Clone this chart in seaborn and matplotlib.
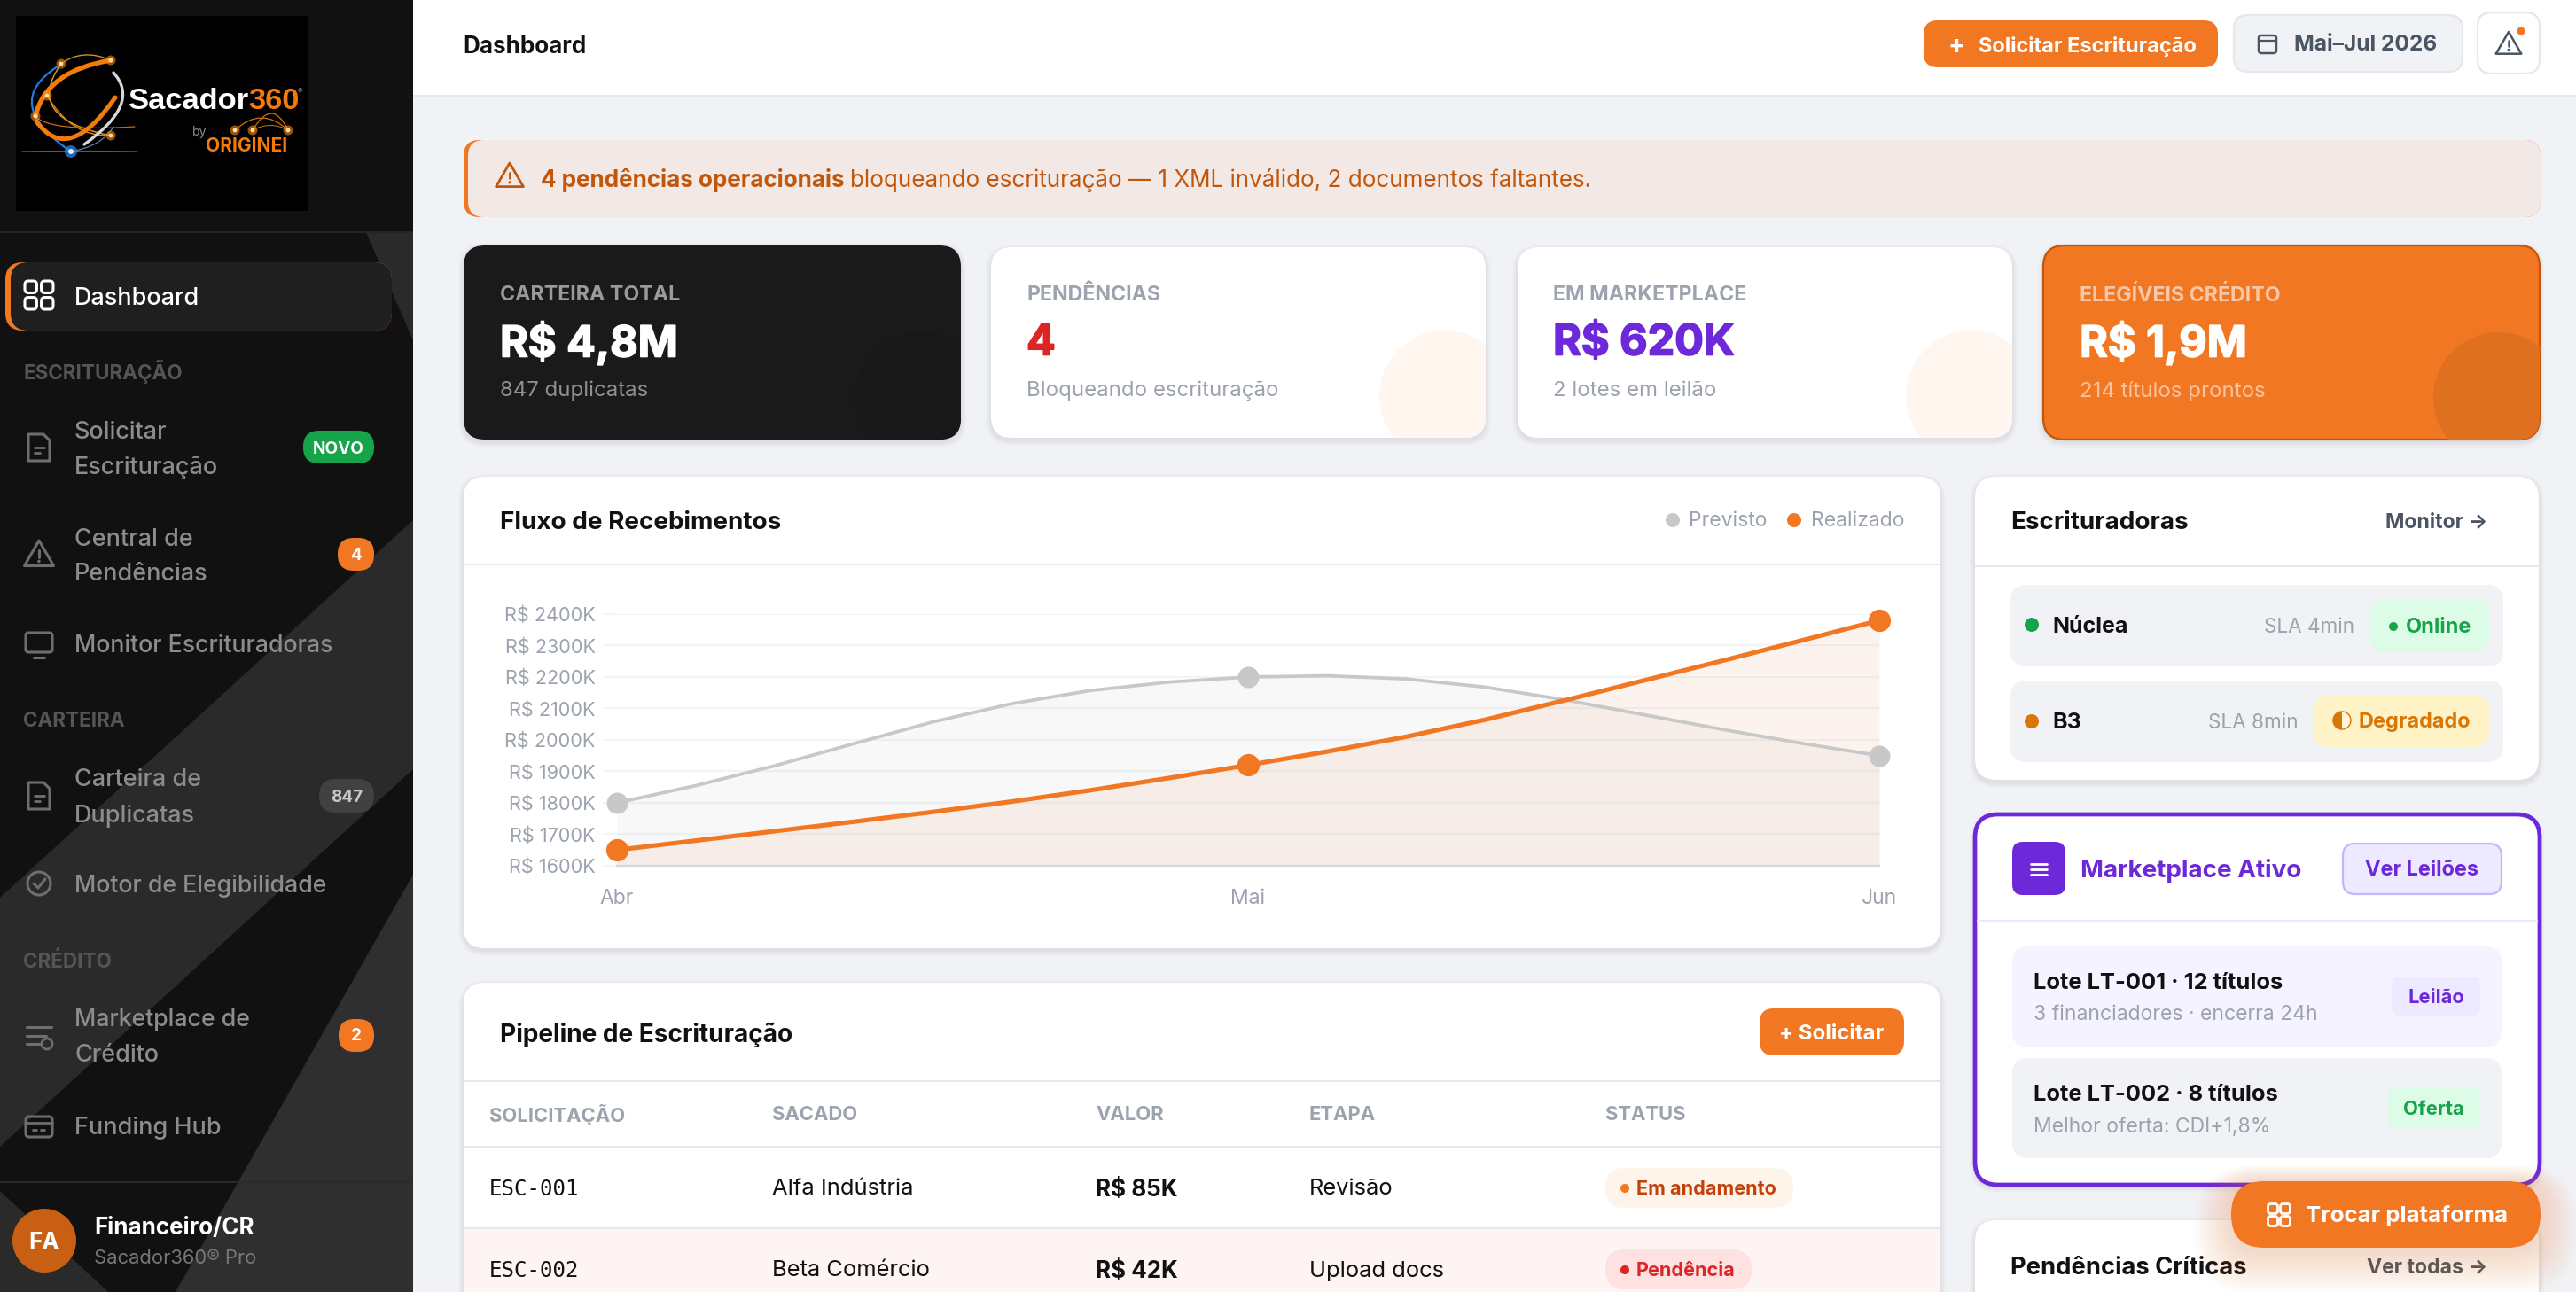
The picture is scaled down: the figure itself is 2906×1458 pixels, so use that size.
import matplotlib
matplotlib.use('Agg')
import matplotlib.pyplot as plt
from matplotlib.patches import FancyBboxPatch, Circle, Polygon, PathPatch, Rectangle, Wedge
from matplotlib.path import Path
import matplotlib.patheffects as pe
import pandas as pd
import seaborn as sns

W, H = 2906, 1458

# chart values (R$ thousands, x in months since Abr)
months = ['Abr', 'Mai', 'Jun']
month_pos = [0, 1, 2]
previsto_months = [1800, 2200, 1950]
realizado_months = [1650, 1920, 2380]
curve_x = [0, .125, .25, .375, .5, .625, .75, .875, 1,
           1.125, 1.25, 1.375, 1.5, 1.625, 1.75, 1.875, 2]
previsto_curve = [1800, 1855, 1918, 1988, 2057, 2115, 2157, 2184, 2200,
                  2204, 2194, 2168, 2128, 2081, 2034, 1990, 1950]
realizado_curve = [1650, 1680, 1710, 1740, 1771, 1804, 1840, 1879, 1920,
                   1963, 2010, 2064, 2125, 2188, 2251, 2315, 2380]
y_ticks = [1600, 1700, 1800, 1900, 2000, 2100, 2200, 2300, 2400]

# table and panel content
table_head = ['SOLICITAÇÃO', 'SACADO', 'VALOR', 'ETAPA', 'STATUS']
table_ids = ['ESC-001', 'ESC-002']
table_sacado = ['Alfa Indústria', 'Beta Comércio']
table_valor = ['R$ 85K', 'R$ 42K']
table_etapa = ['Revisão', 'Upload docs']
table_status = ['Em andamento', 'Pendência']

ORANGE = '#f27722'
DKORANGE = '#c2570c'
PURPLE = '#6d28d9'
GREY = '#9ca3af'
BG = '#f0f2f6'
LINE = '#e5e7eb'
INK = '#111111'

sns.set_theme(style='white')
plt.rcParams['font.family'] = ['Inter', 'DejaVu Sans']

fig = plt.figure(figsize=(W / 100, H / 100), dpi=100, facecolor=BG)
ui = fig.add_axes([0, 0, 1, 1])
ui.set_xlim(0, W)
ui.set_ylim(H, 0)
ui.axis('off')


def box(x0, y0, x1, y1, r=0, fc='white', ec='none', lw=0, z=2, alpha=None):
    if r == 0:
        p = Rectangle((x0, y0), x1 - x0, y1 - y0, fc=fc, ec=ec, lw=lw, zorder=z, alpha=alpha)
    else:
        p = FancyBboxPatch((x0 + r, y0 + r), x1 - x0 - 2 * r, y1 - y0 - 2 * r,
                           boxstyle='round,pad=%s,rounding_size=%s' % (r, r),
                           fc=fc, ec=ec, lw=lw, zorder=z, alpha=alpha)
    ui.add_patch(p)
    return p


def txt(x, y, s, px=24, color=INK, weight='normal', ha='left', z=6, family=None):
    kw = {}
    if family:
        kw['family'] = family
    return ui.text(x, y - 1.5, s, fontsize=px * .72, color=color, weight=weight, ha=ha,
                   va='center_baseline', zorder=z, **kw)


def dot(x, y, r, color, z=5, alpha=None):
    p = Circle((x, y), r, fc=color, ec='none', zorder=z, alpha=alpha)
    ui.add_patch(p)
    return p


def stroke(points, color, lw=2.0, z=5, closed=False, alpha=None):
    ui.add_patch(Polygon(points, closed=closed, fill=False, ec=color, lw=lw, zorder=z,
                         joinstyle='round', capstyle='round', alpha=alpha))


def curve(p0, c, p1, color, lw=1.5, z=4, alpha=None):
    ui.add_patch(PathPatch(Path([p0, c, p1], [Path.MOVETO, Path.CURVE3, Path.CURVE3]),
                           fc='none', ec=color, lw=lw, zorder=z, capstyle='round', alpha=alpha))


def shadow(x0, y0, x1, y1, r=24):
    for i in range(1, 7):
        box(x0 - i, y0 - i + 3, x1 + i, y1 + i + 3, r + i, fc='#1f2937', z=1.5, alpha=.012)


def card(x0, y0, x1, y1, r=24, fc='white', ec='none', lw=0):
    shadow(x0, y0, x1, y1, r)
    return box(x0, y0, x1, y1, r, fc=fc, ec=ec, lw=lw)


def grid_icon(cx, cy, s, color, lw=2.0):
    g = s * .08
    b = s / 2 - g
    for dx in (-1, 1):
        for dy in (-1, 1):
            xa = cx + (g if dx > 0 else -g - b)
            ya = cy + (g if dy > 0 else -g - b)
            box(xa, ya, xa + b, ya + b, 4, fc='none', ec=color, lw=lw, z=5)


def tri_icon(cx, cy, s, color, lw=1.8):
    stroke([(cx, cy - s * .5), (cx + s * .55, cy + s * .45), (cx - s * .55, cy + s * .45)],
           color, lw=lw, closed=True)
    stroke([(cx, cy - s * .12), (cx, cy + s * .12)], color, lw=lw)
    dot(cx, cy + s * .28, lw * .8, color)


def doc_icon(cx, cy, color):
    stroke([(cx - 12, cy - 15), (cx + 5, cy - 15), (cx + 12, cy - 8), (cx + 12, cy + 15),
            (cx - 12, cy + 15)], color, lw=2.2, closed=True)
    stroke([(cx - 5, cy), (cx + 6, cy)], color, lw=2)
    stroke([(cx - 5, cy + 6), (cx + 1, cy + 6)], color, lw=2)


# ---------------- sidebar
box(0, 0, 466, H, fc='#111111', z=1)
BAND = '#2a2a2a'
ui.add_patch(Polygon([(413, 262), (466, 262), (466, 384)], fc=BAND, ec='none', zorder=1.1))
ui.add_patch(Polygon([(466, 587), (0, 1013), (0, 1294), (466, 868)], fc=BAND, ec='none', zorder=1.1))
ui.add_patch(Polygon([(466, 987), (198, H), (466, H)], fc='#2f2f2f', ec='none', zorder=1.1))
ui.add_patch(Polygon([(0, 1344), (122, H), (0, H)], fc=BAND, ec='none', zorder=1.1))
box(0, 0, 466, 262, fc='#111111', z=1.2)
box(0, 261, 466, 263, fc='#242424', z=1.3)
box(0, 1333, 466, 1335, fc='#2b2b2b', z=1.3)

# logo
box(18, 18, 348, 238, fc='black', z=2)
curve((65, 75), (0, 117), (80, 171), '#1f7fe0', 1.6)
curve((80, 171), (115, 165), (128, 143), '#5a7fa8', .9)
curve((69, 72), (93, 54), (125, 68), '#d8901f', 1)
curve((69, 72), (25, 133), (125, 153), '#eb9a20', 1)
curve((53, 108), (81, 155), (125, 153), '#e88a10', 1)
curve((40, 131), (54, 149), (152, 143), '#c86a10', .9)
curve((125, 68), (52, 80), (40, 131), '#f47a0a', 3.8)
curve((41, 137), (77, 187), (130, 110), '#f47a0a', 3.6)
curve((128, 82), (160, 117), (95, 163), '#d8d8d8', 2.4)
curve((25, 171), (80, 170), (155, 171), '#1464c8', 1)
for sx, sy in [(69, 72), (125, 68), (53, 108), (40, 131), (125, 153), (265, 147), (285, 147), (325, 147)]:
    dot(sx, sy, 5.5, '#ff8a10', z=5, alpha=.6)
    dot(sx, sy, 2.4, '#ffe0a0', z=5.1)
dot(80, 171, 7, '#2a90ff', z=5, alpha=.7)
dot(80, 171, 3, '#e0f0ff', z=5.1)
curve((265, 147), (295, 119), (325, 147), '#d8700a', .9)
curve((285, 147), (307, 109), (325, 147), '#d8700a', .9)
curve((285, 147), (305, 136), (325, 147), '#d8700a', .7)
txt(145, 112, 'Sacador', 34.5, 'white', 'bold', family='Liberation Sans')
txt(280, 112, '360', 34.5, '#f47a0a', 'bold', family='Liberation Sans')
txt(336, 103, '®', 8, '#999999')
txt(217, 149, 'by', 14, '#8a8a8a')
txt(232, 164, 'ORIGINEI', 21, '#f47a0a', 'bold')

# active item
box(6, 296, 442, 373, 20, fc=ORANGE, z=2)
box(12, 296, 442, 373, 20, fc='#1f1f1f', z=2.1)
grid_icon(44, 333, 32, 'white', 2.2)
txt(84, 335, 'Dashboard', 27, 'white', 'medium')

NAV = '#8c8c8c'
NAV_ICON = '#6e6e6e'
for y, s in [(418, 'ESCRITURAÇÃO'), (813, 'CARTEIRA'), (1084, 'CRÉDITO')]:
    txt(26, y, s, 22.5, '#555555', 'bold')

txt(84, 486, 'Solicitar', 27, NAV, 'medium')
txt(84, 526, 'Escrituração', 27, NAV, 'medium')
doc_icon(44, 505, NAV_ICON)
box(342, 486, 422, 523, 18, fc='#16a34a', z=3)
txt(382, 506, 'NOVO', 19, 'white', 'bold', ha='center')

txt(84, 607, 'Central de', 27, NAV, 'medium')
txt(84, 646, 'Pendências', 27, NAV, 'medium')
tri_icon(44, 625, 30, NAV_ICON, 2.2)
box(381, 607, 422, 644, 18, fc=ORANGE, z=3)
txt(401, 626, '4', 19, 'white', 'bold', ha='center')

txt(84, 727, 'Monitor Escrituradoras', 26.7, NAV, 'medium')
box(29, 714, 59, 736, 3, fc='none', ec=NAV_ICON, lw=2.2, z=5)
stroke([(38, 742), (50, 742)], NAV_ICON, lw=2.2)

txt(84, 878, 'Carteira de', 27, NAV, 'medium')
txt(84, 919, 'Duplicatas', 27, NAV, 'medium')
doc_icon(44, 898, NAV_ICON)
box(360, 879, 422, 917, 19, fc='#414141', z=3)
txt(391, 899, '847', 19, '#c8c8c8', 'bold', ha='center')

txt(84, 998, 'Motor de Elegibilidade', 26.7, NAV, 'medium')
ui.add_patch(Circle((44, 997), 13, fc='none', ec=NAV_ICON, lw=2.2, zorder=5))
stroke([(38, 997), (43, 1002), (51, 992)], NAV_ICON, lw=2.2)

txt(84, 1149, 'Marketplace de', 26.7, NAV, 'medium')
txt(84, 1190, 'Crédito', 27, NAV, 'medium')
for ly, lx in [(1159, 58), (1169, 52), (1178, 46)]:
    stroke([(30, ly), (lx, ly)], NAV_ICON, lw=2.2)
ui.add_patch(Circle((53, 1178), 6, fc='none', ec=NAV_ICON, lw=2, zorder=5))
box(382, 1150, 422, 1187, 18, fc=ORANGE, z=3)
txt(402, 1169, '2', 19, 'white', 'bold', ha='center')

txt(84, 1271, 'Funding Hub', 27, NAV, 'medium')
box(29, 1260, 59, 1283, 4, fc='none', ec=NAV_ICON, lw=2.2, z=5)
stroke([(29, 1267), (59, 1267)], NAV_ICON, lw=2)
stroke([(37, 1275), (41, 1275)], NAV_ICON, lw=2)
stroke([(46, 1275), (50, 1275)], NAV_ICON, lw=2)

dot(50, 1400, 36, '#c85f12')
txt(50, 1401, 'FA', 26, 'white', 'bold', ha='center')
txt(106, 1384, 'Financeiro/CR', 26, 'white', 'bold')
txt(106, 1420, 'Sacador360® Pro', 22, '#777777')

# ---------------- top bar
box(466, 0, W, 107, fc='white', z=1)
box(466, 107, W, 109, fc=LINE, z=1)
txt(522, 51, 'Dashboard', 26, INK, 'bold')
box(2170, 23, 2502, 76, 16, fc=ORANGE)
txt(2207, 51, '+', 28, 'white', 'bold', ha='center')
txt(2232, 51, 'Solicitar Escrituração', 23.6, 'white', 'bold')
box(2520, 17, 2778, 81, 16, fc=BG, ec=LINE, lw=1.6)
box(2548, 40, 2568, 60, 3, fc='none', ec='#4b5563', lw=1.8, z=5)
stroke([(2548, 46), (2568, 46)], '#4b5563', lw=1.6)
txt(2588, 49, 'Mai–Jul 2026', 24.5, '#4b5563', 'bold')
box(2795, 14, 2865, 83, 16, fc='white', ec=LINE, lw=1.6)
tri_icon(2830, 49, 26, '#4b5563', 1.8)
dot(2844, 35, 4.5, ORANGE)

# ---------------- alert
box(523, 158, 2866, 245, 18, fc=ORANGE)
box(528, 158, 2866, 245, 18, fc='#f2e9e6', z=2.1)
tri_icon(575, 198, 28, DKORANGE, 2)
txt(610, 202, '4 pendências operacionais', 26, DKORANGE, 'bold')
txt(959, 202, 'bloqueando escrituração — 1 XML inválido, 2 documentos faltantes.', 26, DKORANGE)

# ---------------- KPI cards
kpis = [
    (523, 277, 1084, 496, 564, '#1a1a1a', 'CARTEIRA TOTAL', 'R$ 4,8M', '847 duplicatas',
     '#9a9a9a', 'white', '#8f8f8f', '#181818'),
    (1118, 279, 1676, 494, 1158, 'white', 'PENDÊNCIAS', '4', 'Bloqueando escrituração',
     GREY, '#dc2626', GREY, '#fff6f0'),
    (1712, 279, 2270, 494, 1752, 'white', 'EM MARKETPLACE', 'R$ 620K', '2 lotes em leilão',
     GREY, PURPLE, GREY, '#fff6f0'),
    (2305, 277, 2865, 496, 2346, ORANGE, 'ELEGÍVEIS CRÉDITO', 'R$ 1,9M', '214 títulos prontos',
     '#f9c7a5', 'white', '#f9c3a0', '#df7020'),
]
for x0, y0, x1, y1, tx, fc, lab, val, sub, c_lab, c_val, c_sub, c_circ in kpis:
    p = card(x0, y0, x1, y1, 24, fc=fc, ec=DKORANGE if fc == ORANGE else 'none', lw=1.6 if fc == ORANGE else 0)
    blob = dot(x1 - 46, y1 - 47, 74, c_circ, z=2.5)
    blob.set_clip_path(p)
    txt(tx, 332, lab, 23.2, c_lab, 'bold')
    big = txt(tx, 384, val, 48.5, c_val, 'bold')
    big.set_path_effects([pe.withStroke(linewidth=1.2, foreground=c_val)])
    txt(tx, 440, sub, 24, c_sub)

# ---------------- chart card
card(523, 538, 2189, 1070)
txt(564, 588, 'Fluxo de Recebimentos', 27.8, INK, 'bold')
box(523, 636, 2189, 638, fc=LINE, z=3)
dot(1887, 587, 8, '#c8c8c8')
txt(1905, 587, 'Previsto', 23, GREY)
dot(2024, 587, 8, ORANGE)
txt(2043, 587, 'Realizado', 23, GREY)

chart = fig.add_axes([696 / W, 1 - 977 / H, (2120 - 696) / W, (977 - 693) / H], facecolor='none')
curves = pd.DataFrame({'mes': curve_x, 'Previsto': previsto_curve, 'Realizado': realizado_curve})
points = pd.DataFrame({'mes': month_pos, 'Previsto': previsto_months, 'Realizado': realizado_months})

chart.fill_between(curves['mes'], curves['Previsto'], 1600, color='#c8c8c8', alpha=.12, lw=0, zorder=1)
chart.fill_between(curves['mes'], curves['Realizado'], 1600, color='#e2621a', alpha=.07, lw=0, zorder=1.1)
sns.lineplot(data=curves, x='mes', y='Previsto', color='#c8c8c8', lw=2.7, ax=chart, zorder=3)
sns.lineplot(data=curves, x='mes', y='Realizado', color=ORANGE, lw=3.7, ax=chart, zorder=4)
sns.scatterplot(data=points, x='mes', y='Previsto', color='#c8c8c8', s=300, linewidth=0, ax=chart,
                zorder=5, clip_on=False)
sns.scatterplot(data=points, x='mes', y='Realizado', color=ORANGE, s=330, linewidth=0, ax=chart,
                zorder=6, clip_on=False)
chart.set_xlim(0, 2)
chart.set_ylim(1600, 2400)
chart.set_xticks(month_pos)
chart.set_xticklabels(months)
chart.set_yticks(y_ticks)
chart.set_yticklabels(['R$ %dK' % v for v in y_ticks])
chart.set_xlabel('')
chart.set_ylabel('')
chart.grid(axis='y', color='#f3f4f6', lw=1.6, zorder=0)
chart.set_axisbelow(True)
chart.tick_params(axis='y', length=11.5, width=1.6, color='#f3f4f6', labelcolor=GREY, labelsize=15.6, pad=6, left=True)
chart.tick_params(axis='x', length=0, labelcolor=GREY, labelsize=16.5, pad=19)
for name in ['top', 'right', 'left']:
    chart.spines[name].set_visible(False)
chart.spines['bottom'].set_color('#d9d6d6')
chart.spines['bottom'].set_linewidth(1.6)

# ---------------- pipeline table
card(523, 1109, 2189, H + 60)
txt(564, 1166, 'Pipeline de Escrituração', 28, INK, 'bold')
box(1985, 1138, 2148, 1191, 16, fc=ORANGE)
txt(2066, 1166, '+ Solicitar', 24, 'white', 'bold', ha='center')
box(523, 1219, 2189, 1221, fc=LINE, z=3)
box(523, 1293, 2189, 1295, fc=LINE, z=3)
box(523, 1385, 2189, 1387, fc=LINE, z=3)
box(523, 1387, 2189, H, fc='#fef4f3', z=2.2)
col_x = [552, 871, 1236, 1477, 1811]
for cx, s in zip(col_x, table_head):
    txt(cx, 1257, s, 22, GREY, 'bold')
status_style = [(2023, '#fff4ea', ORANGE, '#c2410c'), (1976, '#fee2e2', '#dc2626', '#dc2626')]
for i, ry in enumerate([1341, 1433]):
    txt(col_x[0], ry, table_ids[i], 24, INK, family='DejaVu Sans Mono')
    txt(col_x[1], ry, table_sacado[i], 25.5, INK)
    txt(col_x[2], ry, table_valor[i], 26, INK, 'bold')
    txt(col_x[3], ry, table_etapa[i], 25.5, INK)
    end, pill, dc, tc = status_style[i]
    box(1811, ry - 23, end, ry + 22, 22, fc=pill, z=3)
    dot(1833, ry, 5, dc)
    txt(1846, ry, table_status[i], 21.6, tc, 'bold')

# ---------------- escrituradoras
card(2228, 538, 2864, 880)
txt(2268, 588, 'Escrituradoras', 27.8, INK, 'bold')
txt(2806, 588, 'Monitor →', 23, '#4b5563', 'bold', ha='right')
box(2228, 638, 2864, 640, fc=LINE, z=3)
box(2268, 660, 2824, 752, 18, fc=BG)
dot(2292, 705, 8, '#16a34a')
txt(2315, 706, 'Núclea', 25, INK, 'bold')
txt(2656, 707, 'SLA 4min', 22.5, GREY, ha='right')
box(2674, 676, 2808, 736, 18, fc='#dcfce7', z=3)
dot(2700, 707, 5, '#16a34a')
txt(2714, 707, 'Online', 23.5, '#16a34a', 'bold')
box(2268, 768, 2824, 860, 18, fc=BG)
dot(2292, 814, 8, '#d97706')
txt(2315, 814, 'B3', 25, INK, 'bold')
txt(2593, 815, 'SLA 8min', 22.5, GREY, ha='right')
box(2610, 784, 2808, 843, 18, fc='#fef3c7', z=3)
ui.add_patch(Circle((2642, 813), 10, fc='#fff7dd', ec='#d97706', lw=1, zorder=5))
ui.add_patch(Wedge((2642, 813), 10, 90, 270, fc='#d97706', ec='none', zorder=5.1))
txt(2660, 814, 'Degradado', 23.5, '#d97706', 'bold')

# ---------------- marketplace
card(2228, 919, 2865, 1337, 26, fc='white', ec=PURPLE, lw=3.4)
box(2270, 950, 2330, 1010, 12, fc=PURPLE)
for ly in (975, 981, 987):
    stroke([(2291, ly), (2309, ly)], 'white', lw=2, z=5)
txt(2347, 981, 'Marketplace Ativo', 27.8, PURPLE, 'bold')
box(2643, 952, 2822, 1009, 14, fc='#ede9fe', ec='#c4b5fd', lw=1.6)
txt(2732, 981, 'Ver Leilões', 23.5, PURPLE, 'bold', ha='center')
box(2230, 1038, 2863, 1040, fc='#ede9fe', z=3)
box(2270, 1068, 2822, 1182, 18, fc='#f5f3ff')
txt(2294, 1108, 'Lote LT-001 · 12 títulos', 25.5, INK, 'bold')
txt(2294, 1144, '3 financiadores · encerra 24h', 23, GREY)
box(2698, 1102, 2798, 1147, 10, fc='#ede9fe', z=3)
txt(2748, 1125, 'Leilão', 22, PURPLE, 'bold', ha='center')
box(2270, 1194, 2822, 1307, 18, fc=BG)
txt(2294, 1234, 'Lote LT-002 · 8 títulos', 25.5, INK, 'bold')
txt(2294, 1271, 'Melhor oferta: CDI+1,8%', 23, GREY)
box(2693, 1228, 2798, 1273, 10, fc='#dcfce7', z=3)
txt(2745, 1251, 'Oferta', 22, '#16a34a', 'bold', ha='center')

# ---------------- pendencias + floating button
card(2228, 1377, 2864, H + 60)
txt(2268, 1429, 'Pendências Críticas', 27.4, INK, 'bold')
txt(2806, 1429, 'Ver todas →', 23, '#4b5563', 'bold', ha='right')

for i in range(1, 13):
    box(2517 - i * 3.5, 1333 - i * 1.5, 2866 + i * 3.5, 1408 + i * 4 + 4, 37 + i * 2.7, fc='#f27722', z=7, alpha=.018)
box(2517, 1333, 2866, 1408, 37, fc=ORANGE, z=8)
for dx in (-1, 1):
    for dy in (-1, 1):
        xa = 2571 + (1.5 if dx > 0 else -12.5)
        ya = 1371 + (1.5 if dy > 0 else -12.5)
        box(xa, ya, xa + 11, ya + 11, 3, fc='none', ec='white', lw=2, z=9)
txt(2601, 1371, 'Trocar plataforma', 25.7, 'white', 'bold', z=9)

fig.savefig('out.png', dpi=100, facecolor=BG)
